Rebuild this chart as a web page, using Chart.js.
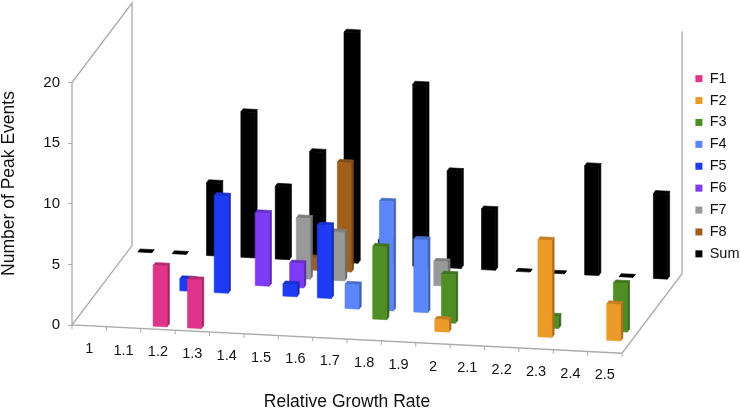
<!DOCTYPE html>
<html>
<head>
<meta charset="utf-8">
<title>Peak events by relative growth rate</title>
<script src="https://cdn.jsdelivr.net/npm/chart.js@4/dist/chart.umd.js"></script>
<style>
    html, body { margin: 0; padding: 0; background: #fff; }
    canvas { display: block; }
</style>
</head>
<body>
<canvas id="peakChart" width="740" height="411"></canvas>
<script>
const rates = ['1', '1.1', '1.2', '1.3', '1.4', '1.5', '1.6', '1.7', '1.8', '1.9', '2', '2.1', '2.2', '2.3', '2.4', '2.5'];

const f1 = [null, null, 5, 4, null, null, null, null, null, null, null, null, null, null, null, null];
const f2 = [null, null, null, null, null, null, null, null, null, null, 1, null, null, 8, null, 3];
const f3 = [null, null, null, null, null, null, null, null, 6, null, 4, null, null, 1, null, 4];
const f4 = [null, null, null, null, null, null, null, 2, 9, 6, null, null, null, null, null, null];
const f5 = [null, null, 1, 8, null, 1, 6, null, null, null, null, null, null, null, null, null];
const f6 = [null, null, null, null, 6, 2, null, null, null, null, null, null, null, null, null, null];
const f7 = [null, null, null, null, null, 5, 4, null, null, 2, null, null, null, null, null, null];
const f8 = [null, null, null, null, null, 1, 9, null, null, null, null, null, null, null, null, null];
const sum = [0, 0, 6, 12, 6, 9, 19, 2, 15, 8, 5, 0, 0, 9, 0, 7];

const seriesNames = ['F1', 'F2', 'F3', 'F4', 'F5', 'F6', 'F7', 'F8', 'Sum'];
const seriesValues = [f1, f2, f3, f4, f5, f6, f7, f8, sum];
const seriesColors = ['#e0338a', '#ec9a28', '#4e8e25', '#5c86f7', '#1e3af5', '#7f3af5', '#999999', '#a0601c', '#000000'];

const fontFamily = '"Liberation Sans", Arial, sans-serif';
const inkColor = '#111111';
const wallColor = '#aaaaaa';

// oblique projection of the 3D box: one series step back, and floor slope per px along x
const depthX = 6.67;
const depthY = -8.83;
const floorSlope = 0.0513;
const barHalfWidth = 7;
const barHalfDepth = 0.17;

function shade(hex, k) {
    const n = parseInt(hex.slice(1), 16);
    const r = Math.round((n >> 16 & 255) * k);
    const g = Math.round((n >> 8 & 255) * k);
    const b = Math.round((n & 255) * k);
    return `rgb(${r},${g},${b})`;
}

function project(chart, xPx, depth, value) {
    const { x, y } = chart.scales;
    return [
        xPx + depth * depthX,
        y.getPixelForValue(value) + (xPx - x.left) * floorSlope + depth * depthY
    ];
}

function fillPoly(ctx, pts, color) {
    ctx.fillStyle = color;
    ctx.strokeStyle = color;
    ctx.lineWidth = 0.6; // hides the antialiased seam between faces
    ctx.beginPath();
    pts.forEach((p, i) => i ? ctx.lineTo(p[0], p[1]) : ctx.moveTo(p[0], p[1]));
    ctx.closePath();
    ctx.fill();
    ctx.stroke();
}

function drawBar(chart, index, seriesIndex, value, color) {
    const ctx = chart.ctx;
    const xc = chart.scales.x.getPixelForValue(index);
    const l = xc - barHalfWidth;
    const r = xc + barHalfWidth;
    const front = seriesIndex + 0.5 - barHalfDepth;
    const back = seriesIndex + 0.5 + barHalfDepth;

    fillPoly(ctx, [
        project(chart, r, front, 0), project(chart, r, back, 0),
        project(chart, r, back, value), project(chart, r, front, value)
    ], shade(color, 0.72));
    fillPoly(ctx, [
        project(chart, l, front, value), project(chart, r, front, value),
        project(chart, r, back, value), project(chart, l, back, value)
    ], shade(color, 0.82));
    if (value > 0) {
        fillPoly(ctx, [
            project(chart, l, front, 0), project(chart, r, front, 0),
            project(chart, r, front, value), project(chart, l, front, value)
        ], color);
    }
}

const box3d = {
    id: 'box3d',
    beforeDraw(chart) {
        // legend sits higher and further right than the layout would put it
        chart.legend.left = 688;
        chart.legend.right = 740;
        chart.legend.top = 64;
        chart.legend.bottom = 411;
    },
    beforeDatasetsDraw(chart) {
        const ctx = chart.ctx;
        const { x, y } = chart.scales;
        const depth = seriesNames.length;
        const band = x.width / rates.length;

        const line = (pts, w) => {
            ctx.strokeStyle = wallColor;
            ctx.lineWidth = w;
            ctx.beginPath();
            pts.forEach((p, i) => i ? ctx.lineTo(p[0], p[1]) : ctx.moveTo(p[0], p[1]));
            ctx.stroke();
        };

        // left wall, floor edges, right wall
        line([
            project(chart, x.left, 0, 0), project(chart, x.left, 0, 20),
            project(chart, x.left, depth, 20), project(chart, x.left, depth, 0),
            project(chart, x.left, 0, 0), project(chart, x.right, 0, 0),
            project(chart, x.right, depth, 0), project(chart, x.right, depth, 20)
        ], 1.3);

        // ticks along the slanted front edge
        for (let i = 0; i <= rates.length; i++) {
            const p = project(chart, x.left + i * band, 0, 0);
            line([p, [p[0], p[1] + 4]], 1);
        }

        // back row first so nearer bars cover it
        for (let s = depth - 1; s >= 0; s--) {
            seriesValues[s].forEach((v, i) => {
                if (v !== null) drawBar(chart, i, s, v, seriesColors[s]);
            });
        }

        // category labels follow the floor edge
        ctx.fillStyle = inkColor;
        ctx.font = '14.5px ' + fontFamily;
        ctx.textAlign = 'center';
        ctx.textBaseline = 'middle';
        rates.forEach((label, i) => {
            const p = project(chart, x.getPixelForValue(i), 0, 0);
            ctx.fillText(label, p[0], p[1] + 23);
        });
        return false;
    }
};

new Chart(document.getElementById('peakChart'), {
    type: 'bar',
    data: {
        labels: rates,
        datasets: seriesNames.map((name, i) => ({
            label: name,
            data: seriesValues[i],
            backgroundColor: seriesColors[i]
        }))
    },
    options: {
        responsive: false,
        animation: false,
        layout: { padding: { top: 42, right: 78, bottom: 0, left: 0 } },
        plugins: {
            tooltip: { enabled: false },
            legend: {
                position: 'right',
                align: 'start',
                maxWidth: 40,
                labels: {
                    boxWidth: 7,
                    boxHeight: 7,
                    padding: 7.4,
                    color: inkColor,
                    font: { family: fontFamily, size: 14.5 }
                }
            }
        },
        scales: {
            x: {
                offset: true,
                grid: { display: false },
                border: { display: false },
                ticks: { display: false },
                title: {
                    display: true,
                    text: 'Relative Growth Rate',
                    color: inkColor,
                    padding: 0,
                    font: { family: fontFamily, size: 17.5, lineHeight: 1 }
                },
                afterFit(scale) { scale.height = 86; }
            },
            y: {
                min: 0,
                // room above 20 keeps the axis title centred where the reference has it
                max: 23.34,
                grid: { drawOnChartArea: false, tickLength: 4, color: wallColor },
                border: { display: false },
                ticks: {
                    stepSize: 5,
                    includeBounds: false,
                    padding: 8,
                    color: inkColor,
                    font: { family: fontFamily, size: 15 }
                },
                title: {
                    display: true,
                    text: 'Number of Peak Events',
                    color: inkColor,
                    padding: 0,
                    font: { family: fontFamily, size: 17.5, lineHeight: 1 }
                },
                afterFit(scale) { scale.width = 72; }
            }
        }
    },
    plugins: [box3d]
});
</script>
</body>
</html>
